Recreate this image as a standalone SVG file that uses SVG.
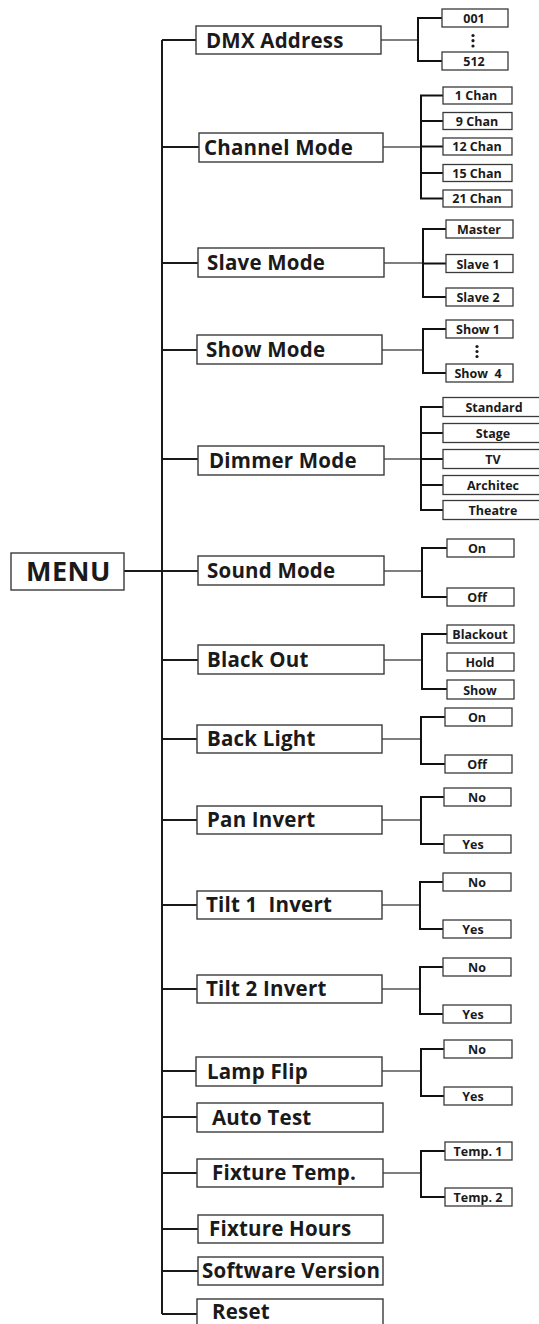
<svg xmlns="http://www.w3.org/2000/svg" width="539" height="1324" viewBox="0 0 539 1324">
<style>
.bg{fill:#fff}
.box{fill:#fff;stroke:#3a3a3a;stroke-width:1.4}
.cbox{fill:#fff;stroke:#3a3a3a;stroke-width:1.3}
.trunk{stroke:#1a1a1a;stroke-width:2;fill:none}
.thin{stroke:#555;stroke-width:1.3;fill:none}
.br{stroke:#111;stroke-width:2;fill:none}
.mt{font-family:"Open Sans","DejaVu Sans",sans-serif;font-weight:bold;font-size:20.5px;fill:#1a1a1a;letter-spacing:0.2px}
.ct{font-family:"Open Sans","DejaVu Sans",sans-serif;font-weight:bold;font-size:12.5px;fill:#1a1a1a;text-anchor:middle}
.menu{font-family:"Open Sans","DejaVu Sans",sans-serif;font-weight:bold;font-size:27px;fill:#1a1a1a;letter-spacing:0.5px}
.dot{fill:#1a1a1a}
</style>
<rect class="bg" x="0" y="0" width="539" height="1324"/>
<g id="connectors">
<path class="trunk" d="M162,40V1314 M124,571H162"/>
<path class="trunk" d="M162,40H196 M162,147H199 M162,263H198 M162,350H197 M162,459H198 M162,571H198 M162,660H198 M162,739H197 M162,820H197 M162,905H197 M162,989H197 M162,1071H196 M162,1117H197 M162,1173H197 M162,1229H198 M162,1271H198 M162,1314H197"/>
<path class="thin" d="M381,40H418 M383,147H421 M384,263H423 M382,350H423 M384,459H421 M384,571H422 M384,660H422 M382,739H421 M382,820H421 M382,905H420 M382,989H420 M382,1071H421 M383,1173H421"/>
<path class="br" d="M442,18H418V61H442"/>
<path class="br" d="M443,95.5H421V198.5H443 M421,121H443 M421,146.5H443 M421,173H443"/>
<path class="br" d="M446,229H423V297H446 M423,263.5H446"/>
<path class="br" d="M446,329H423V373H446"/>
<path class="br" d="M443,407H421V510H443 M421,433H443 M421,459H443 M421,485H443"/>
<path class="br" d="M447,548H422V597H447"/>
<path class="br" d="M447,634H422V689H447"/>
<path class="br" d="M445,717H421V764H445"/>
<path class="br" d="M444,797H421V844H444"/>
<path class="br" d="M443,882H420V929H443"/>
<path class="br" d="M443,967H420V1014H443"/>
<path class="br" d="M444,1049H421V1096H444"/>
<path class="br" d="M445,1151H421V1197H445"/>
</g>
<g id="menu"><rect class="box" x="11" y="553" width="113" height="37"/><text class="menu" x="26" y="581">MENU</text></g>
<g id="dmx-address"><rect class="box" x="196" y="26" width="185" height="28"/><text class="mt" x="206" y="48">DMX Address</text></g>
<g id="dmx-001"><rect class="cbox" x="442" y="9" width="66" height="18"/><text class="ct" x="474" y="23">001</text></g>
<g id="dmx-dots"><circle class="dot" cx="473" cy="35.5" r="1.6"/><circle class="dot" cx="473" cy="40.7" r="1.6"/><circle class="dot" cx="473" cy="46" r="1.6"/></g>
<g id="dmx-512"><rect class="cbox" x="442" y="52" width="66" height="18"/><text class="ct" x="474" y="66">512</text></g>
<g id="channel-mode"><rect class="box" x="199" y="133" width="184" height="29"/><text class="mt" x="204" y="155">Channel Mode</text></g>
<g id="ch-1"><rect class="cbox" x="443" y="87" width="69" height="17"/><text class="ct" x="476" y="100">1 Chan</text></g>
<g id="ch-9"><rect class="cbox" x="443" y="112.5" width="69" height="17"/><text class="ct" x="477" y="125.5">9 Chan</text></g>
<g id="ch-12"><rect class="cbox" x="443" y="138" width="69" height="17"/><text class="ct" x="477" y="151">12 Chan</text></g>
<g id="ch-15"><rect class="cbox" x="443" y="164.5" width="69" height="17"/><text class="ct" x="477" y="177.5">15 Chan</text></g>
<g id="ch-21"><rect class="cbox" x="443" y="190" width="69" height="17"/><text class="ct" x="477" y="203">21 Chan</text></g>
<g id="slave-mode"><rect class="box" x="198" y="248" width="186" height="29"/><text class="mt" x="207" y="270">Slave Mode</text></g>
<g id="sl-master"><rect class="cbox" x="446" y="220" width="67" height="18"/><text class="ct" x="479" y="234">Master</text></g>
<g id="sl-1"><rect class="cbox" x="446" y="254.5" width="67" height="18"/><text class="ct" x="478" y="268.5">Slave 1</text></g>
<g id="sl-2"><rect class="cbox" x="446" y="288" width="67" height="18"/><text class="ct" x="478" y="302">Slave 2</text></g>
<g id="show-mode"><rect class="box" x="197" y="335" width="185" height="29"/><text class="mt" x="206" y="357">Show Mode</text></g>
<g id="show-1"><rect class="cbox" x="446" y="320" width="67" height="18"/><text class="ct" x="478" y="334">Show 1</text></g>
<g id="show-dots"><circle class="dot" cx="477" cy="346.5" r="1.6"/><circle class="dot" cx="477" cy="351.5" r="1.6"/><circle class="dot" cx="477" cy="356.5" r="1.6"/></g>
<g id="show-4"><rect class="cbox" x="446" y="364" width="67" height="18"/><text class="ct" x="478" y="378" xml:space="preserve">Show  4</text></g>
<g id="dimmer-mode"><rect class="box" x="198" y="446" width="186" height="29"/><text class="mt" x="209" y="468">Dimmer Mode</text></g>
<g id="dm-standard"><rect class="cbox" x="443" y="397.5" width="101" height="19"/><text class="ct" x="494" y="412">Standard</text></g>
<g id="dm-stage"><rect class="cbox" x="443" y="423.5" width="101" height="19"/><text class="ct" x="493" y="438">Stage</text></g>
<g id="dm-tv"><rect class="cbox" x="443" y="449.5" width="101" height="19"/><text class="ct" x="493" y="464">TV</text></g>
<g id="dm-architec"><rect class="cbox" x="443" y="475.5" width="101" height="19"/><text class="ct" x="493" y="490">Architec</text></g>
<g id="dm-theatre"><rect class="cbox" x="443" y="500.5" width="101" height="19"/><text class="ct" x="493" y="515">Theatre</text></g>
<g id="sound-mode"><rect class="box" x="198" y="556" width="186" height="29"/><text class="mt" x="207" y="578">Sound Mode</text></g>
<g id="snd-on"><rect class="cbox" x="447" y="539" width="67" height="18"/><text class="ct" x="477" y="553">On</text></g>
<g id="snd-off"><rect class="cbox" x="447" y="588" width="67" height="18"/><text class="ct" x="477" y="602">Off</text></g>
<g id="black-out"><rect class="box" x="198" y="645" width="186" height="29"/><text class="mt" x="207" y="667">Black Out</text></g>
<g id="bo-blackout"><rect class="cbox" x="447" y="625" width="67" height="18"/><text class="ct" x="480" y="639">Blackout</text></g>
<g id="bo-hold"><rect class="cbox" x="447" y="653" width="67" height="18"/><text class="ct" x="480" y="667">Hold</text></g>
<g id="bo-show"><rect class="cbox" x="447" y="680" width="67" height="19"/><text class="ct" x="480" y="695">Show</text></g>
<g id="back-light"><rect class="box" x="197" y="725" width="185" height="28"/><text class="mt" x="207" y="746">Back Light</text></g>
<g id="bl-on"><rect class="cbox" x="445" y="708" width="67" height="18"/><text class="ct" x="477" y="722">On</text></g>
<g id="bl-off"><rect class="cbox" x="445" y="755" width="67" height="18"/><text class="ct" x="477" y="769">Off</text></g>
<g id="pan-invert"><rect class="box" x="197" y="806" width="185" height="28"/><text class="mt" x="207" y="827">Pan Invert</text></g>
<g id="pan-no"><rect class="cbox" x="444" y="788" width="67" height="18"/><text class="ct" x="477" y="802">No</text></g>
<g id="pan-yes"><rect class="cbox" x="444" y="835" width="67" height="18"/><text class="ct" x="473" y="849">Yes</text></g>
<g id="tilt1-invert"><rect class="box" x="197" y="891" width="185" height="28"/><text class="mt" x="206" y="912" xml:space="preserve">Tilt 1  Invert</text></g>
<g id="t1-no"><rect class="cbox" x="443" y="873" width="68" height="18"/><text class="ct" x="477" y="887">No</text></g>
<g id="t1-yes"><rect class="cbox" x="443" y="920" width="68" height="18"/><text class="ct" x="473" y="934">Yes</text></g>
<g id="tilt2-invert"><rect class="box" x="197" y="975" width="185" height="28"/><text class="mt" x="206" y="996">Tilt 2 Invert</text></g>
<g id="t2-no"><rect class="cbox" x="443" y="958" width="68" height="18"/><text class="ct" x="477" y="972">No</text></g>
<g id="t2-yes"><rect class="cbox" x="443" y="1005" width="68" height="18"/><text class="ct" x="473" y="1019">Yes</text></g>
<g id="lamp-flip"><rect class="box" x="196" y="1057" width="186" height="29"/><text class="mt" x="207" y="1079">Lamp Flip</text></g>
<g id="lf-no"><rect class="cbox" x="444" y="1040" width="68" height="18"/><text class="ct" x="477" y="1054">No</text></g>
<g id="lf-yes"><rect class="cbox" x="444" y="1087" width="68" height="18"/><text class="ct" x="473" y="1101">Yes</text></g>
<g id="auto-test"><rect class="box" x="197" y="1103" width="186" height="29"/><text class="mt" x="212" y="1125">Auto Test</text></g>
<g id="fixture-temp"><rect class="box" x="197" y="1159" width="186" height="28"/><text class="mt" x="212" y="1180">Fixture Temp.</text></g>
<g id="ft-1"><rect class="cbox" x="445" y="1142" width="67" height="18"/><text class="ct" x="478" y="1156">Temp. 1</text></g>
<g id="ft-2"><rect class="cbox" x="445" y="1188" width="67" height="18"/><text class="ct" x="478" y="1202">Temp. 2</text></g>
<g id="fixture-hours"><rect class="box" x="198" y="1215" width="185" height="28"/><text class="mt" x="209" y="1236">Fixture Hours</text></g>
<g id="software-version"><rect class="box" x="198" y="1257" width="185" height="28"/><text class="mt" x="202" y="1278">Software Version</text></g>
<g id="reset"><rect class="box" x="197" y="1299" width="186" height="30"/><text class="mt" x="212" y="1319">Reset</text></g>
</svg>
